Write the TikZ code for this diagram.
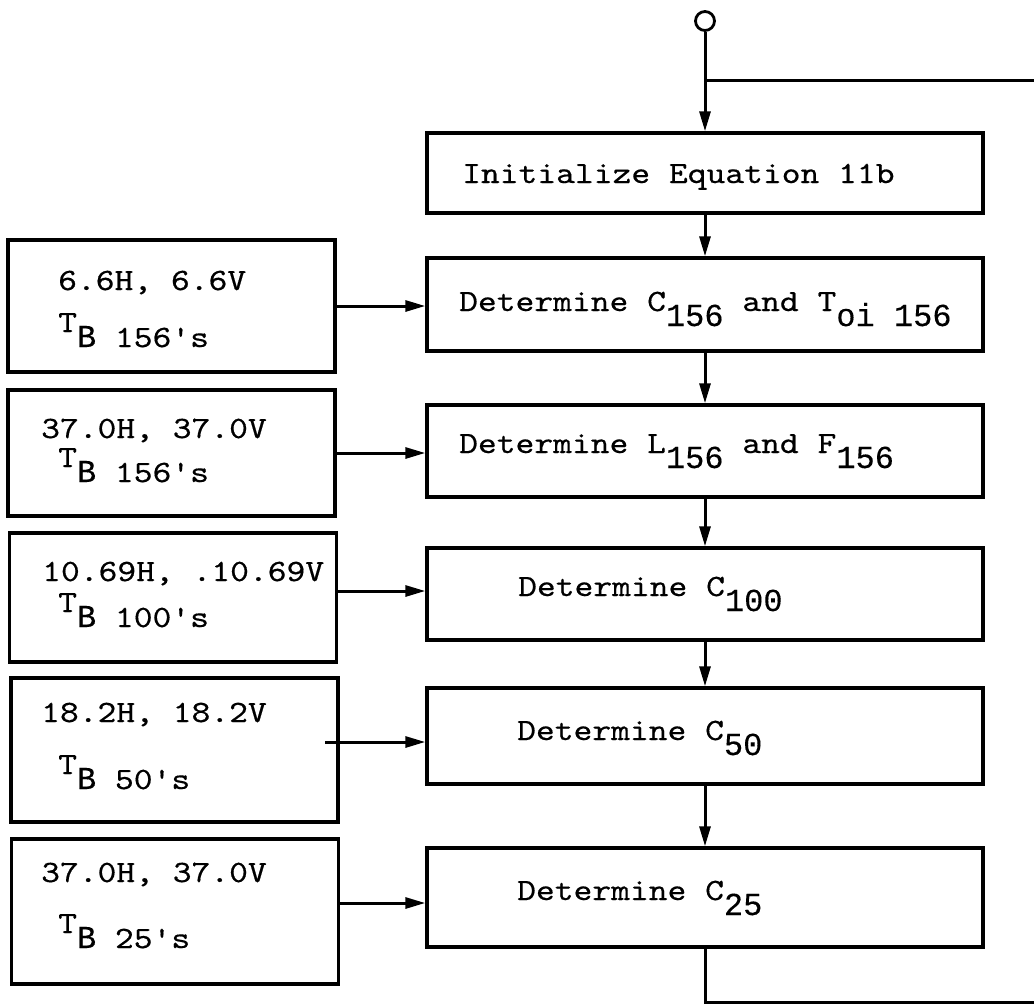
\documentclass[tikz,border=0pt]{standalone}
\usepackage{fontspec}
\newfontfamily\submono{Liberation Mono}[FakeBold=0.2]
\newfontfamily\twfont{lmmono10-regular}[Extension=.otf,FakeBold=0.4]
\usetikzlibrary{arrows.meta}
\newcommand\tw[1]{\scalebox{1.155}[1]{\fontsize{31}{34}\selectfont\twfont #1}}
\newcommand\sm[1]{{\fontsize{32}{35}\selectfont\submono #1}}
\newcommand\dn[1]{\raisebox{-15pt}{\sm{#1}}}
\begin{document}
\begin{tikzpicture}[x=1pt,y=-1pt,
  box/.style={draw,line width=3.4pt,rectangle,inner sep=0pt},
  rbox/.style={box,minimum width=556pt},
  lbox/.style={box,minimum width=327pt},
  lbl/.style={anchor=base west,inner sep=0pt},
  con/.style={line width=3pt},
  arr/.style={con,-{Triangle[length=20pt,width=11pt]}}]
\useasboundingbox (0,0) rectangle (1034,1005);

% right column
\node[rbox,minimum height=80pt] (init) at (705,173) {};
\node[rbox,minimum height=93pt] (c156) at (705,304.5) {};
\node[rbox,minimum height=92pt] (l156) at (705,451) {};
\node[rbox,minimum height=92pt] (c100) at (705,594) {};
\node[rbox,minimum height=96pt] (c50) at (705,736) {};
\node[rbox,minimum height=99pt] (c25) at (705,897.5) {};

% left column
\node[lbox,minimum height=132pt] (b1) at (171.5,306) {};
\node[lbox,minimum height=126pt] (b2) at (171.5,453) {};
\node[lbox,minimum height=129pt] (b3) at (173,597.5) {};
\node[lbox,minimum height=144pt] (b4) at (174.5,750) {};
\node[lbox,minimum height=145pt] (b5) at (175,911.5) {};

% start terminal
\node[draw,circle,line width=2.8pt,minimum size=19pt,inner sep=0pt] (start) at (705,21) {};
\coordinate (br) at (1034,80);
\coordinate (end) at (1034,1002);

% connectors
\draw[arr] (start.south) -- (init.north);
\draw[con] (start.south |- br) -- (br);
\draw[arr] (init.south) -- (c156.north);
\draw[arr] (c156.south) -- (l156.north);
\draw[arr] (l156.south) -- (c100.north);
\draw[arr] (c100.south) -- (c50.north);
\draw[arr] (c50.south) -- (c25.north);
\draw[con] (c25.south) |- (end);

\coordinate (s3) at (336,591);
\coordinate (s4) at (325,742);
\coordinate (s5) at (339,903);
\draw[arr] (b1.east) -- (b1.east -| c156.west);
\draw[arr] (b2.east) -- (b2.east -| l156.west);
\draw[arr] (s3) -- (s3 -| c100.west);
\draw[arr] (s4) -- (s4 -| c50.west);
\draw[arr] (s5) -- (s5 -| c25.west);

% right texts
\node[lbl] (t0) at (462,183) {\tw{Initialize Equation 11b}};
\node[lbl] (t1) at (459,311) {\tw{Determine C}\dn{156}\tw{\ and T}\dn{oi 156}};
\node[lbl] (t2) at (459,453) {\tw{Determine L}\dn{156}\tw{\ and F}\dn{156}};
\node[lbl] (t3) at (518,596) {\tw{Determine C}\dn{100}};
\node[lbl] (t4) at (517,740) {\tw{Determine C}\dn{50}};
\node[lbl] (t5) at (517,900) {\tw{Determine C}\dn{25}};

% left texts
\node[lbl] (l1a) at (58,290) {\tw{6.6H, 6.6V}};
\node[lbl] (l1b) at (58,347) {\raisebox{15pt}{\tw{T}}\sm{B}\tw{\ 156's}};
\node[lbl] (l2a) at (41,438) {\tw{37.0H, 37.0V}};
\node[lbl] (l2b) at (58,482) {\raisebox{15pt}{\tw{T}}\sm{B}\tw{\ 156's}};
\node[lbl] (l3a) at (42,581) {\tw{10.69H, .10.69V}};
\node[lbl] (l3b) at (58,627) {\raisebox{15pt}{\tw{T}}\sm{B}\tw{\ 100's}};
\node[lbl] (l4a) at (41,722) {\tw{18.2H, 18.2V}};
\node[lbl] (l4b) at (58,789) {\raisebox{15pt}{\tw{T}}\sm{B}\tw{\ 50's}};
\node[lbl] (l5a) at (41,882) {\tw{37.0H, 37.0V}};
\node[lbl] (l5b) at (58,948) {\raisebox{15pt}{\tw{T}}\sm{B}\tw{\ 25's}};
\end{tikzpicture}
\end{document}
